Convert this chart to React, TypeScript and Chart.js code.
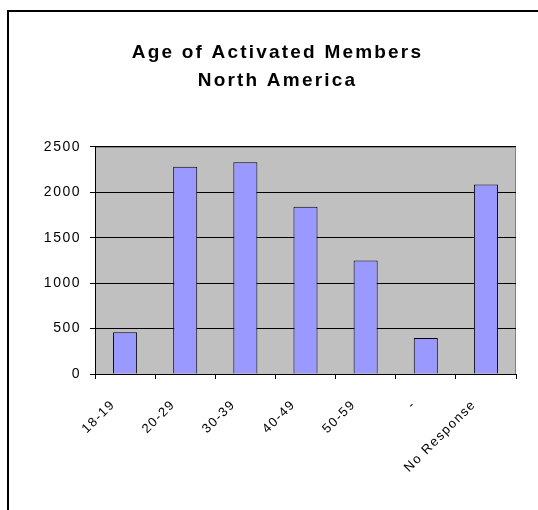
import React, { useEffect, useRef } from "react";
import { Chart, registerables } from "chart.js";

Chart.register(...registerables);

const titleLines = ["Age of Activated Members", "North America"];
const categories = ["18-19", "20-29", "30-39", "40-49", "50-59", "-", "No Response"];
const members = [460, 2280, 2330, 1840, 1250, 395, 2085];
const yMin = 0;
const yMax = 2500;
const yStep = 500;

const FONT = "Arial, 'Liberation Sans', sans-serif";

const plotBg = {
  id: "plotBg",
  beforeDraw(chart: any) {
    const { ctx, chartArea } = chart;
    ctx.save();
    ctx.fillStyle = "#C0C0C0";
    ctx.fillRect(chartArea.left, chartArea.top, chartArea.right - chartArea.left, chartArea.bottom - chartArea.top);
    ctx.strokeStyle = "#808080";
    ctx.lineWidth = 1;
    ctx.strokeRect(chartArea.left + 0.5, chartArea.top + 0.5, chartArea.right - chartArea.left - 1, chartArea.bottom - chartArea.top);
    ctx.restore();
    (ctx as any).letterSpacing = "2.2px";
  },
  afterDatasetsDraw(chart: any) {
    (chart.ctx as any).letterSpacing = "1.5px";
  },
  afterDraw(chart: any) {
    (chart.ctx as any).letterSpacing = "0px";
  },
};

export default function App() {
  const ref = useRef<HTMLCanvasElement>(null);
  useEffect(() => {
    if (!ref.current) return;
    const chart = new Chart(ref.current, {
      type: "bar",
      data: {
        labels: categories,
        datasets: [
          {
            data: members,
            backgroundColor: "#9999FF",
            borderColor: "#000000",
            borderWidth: 1,
            barPercentage: 0.4,
            categoryPercentage: 1,
            yAxisID: "y",
          },
        ],
      },
      options: {
        responsive: false,
        animation: false,
        devicePixelRatio: 1,
        layout: { padding: 0 },
        plugins: {
          legend: { display: false },
          tooltip: { enabled: false },
          title: {
            display: true,
            text: titleLines,
            color: "#000",
            font: { family: FONT, size: 19, weight: "bold", lineHeight: 1.47 },
            padding: { top: 27, bottom: 52 },
          },
        },
        scales: {
          x: {
            grid: {
              display: true,
              drawOnChartArea: false,
              drawTicks: true,
              tickLength: 5,
              color: "#000",
              offset: true,
            },
            border: { display: true, color: "#000", width: 1 },
            ticks: {
              color: "#000",
              font: { family: FONT, size: 13 },
              minRotation: 45,
              maxRotation: 45,
              autoSkip: false,
              padding: 18,
              labelOffset: -12,
              z: 1,
            },
            afterFit(scale: any) {
              scale.height = 136;
            },
          },
          y: {
            min: yMin,
            max: yMax,
            grid: { color: "#000", lineWidth: 1, tickLength: 5, drawTicks: true },
            border: { display: true, color: "#000", width: 1 },
            ticks: {
              stepSize: yStep,
              color: "#000",
              font: { family: FONT, size: 14 },
              padding: 9,
              z: 1,
              callback: (v: any) => String(v),
            },
            afterFit(scale: any) {
              scale.width = 86;
            },
          },
          spacer: {
            type: "linear",
            position: "right",
            display: true,
            grid: { display: false, drawTicks: false },
            border: { display: false },
            ticks: { display: false },
            afterFit(scale: any) {
              scale.width = 30;
            },
          },
        },
      },
      plugins: [plotBg],
    });
    return () => chart.destroy();
  }, []);

  return (
    <div style={{ position: "absolute", left: 7, top: 10, width: 531, height: 500, overflow: "hidden" }}>
      <div style={{ borderLeft: "2px solid #000", borderTop: "2px solid #000", width: 537, height: 498 }}>
        <canvas ref={ref} width={537} height={498} style={{ display: "block" }} />
      </div>
    </div>
  );
}
